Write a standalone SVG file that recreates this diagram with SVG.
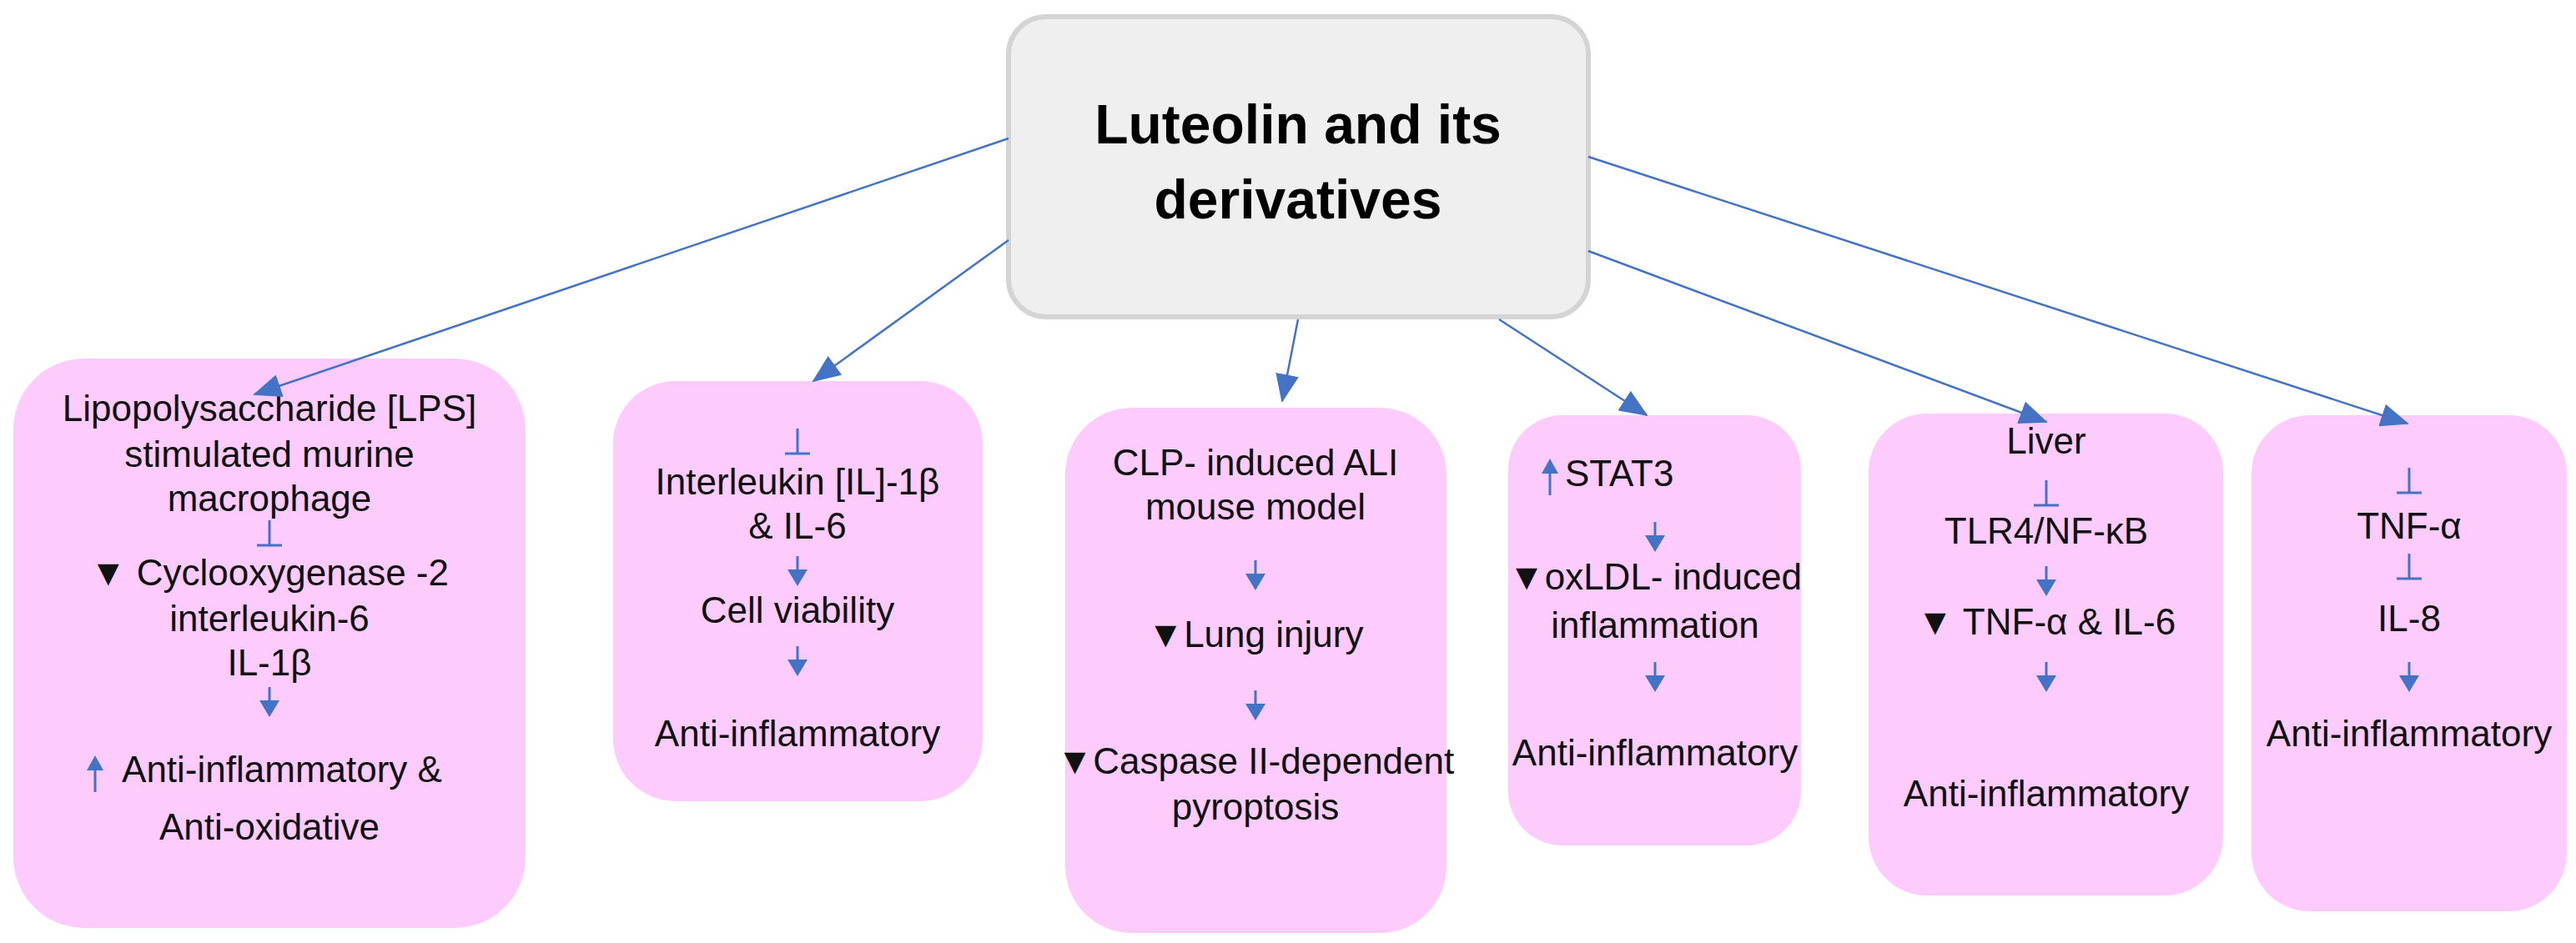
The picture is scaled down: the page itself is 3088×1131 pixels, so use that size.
<svg xmlns="http://www.w3.org/2000/svg" width="3088" height="1131" viewBox="0 0 3088 1131">
<style>
.box{fill:#fdccfd;}
.t{font-family:"Liberation Sans",Arial,sans-serif;font-size:44px;fill:#111;text-anchor:middle;}
.title{font-family:"Liberation Sans",Arial,sans-serif;font-size:66px;font-weight:bold;fill:#000;text-anchor:middle;}
.c{stroke:#4472c4;stroke-width:2.5;fill:none;}
.b{stroke:#4472c4;stroke-width:3;fill:none;}
.bf{fill:#4472c4;}
</style>
<defs>
<marker id="ahb" markerWidth="34" markerHeight="28" refX="32" refY="14" orient="auto" markerUnits="userSpaceOnUse" viewBox="0 0 34 28">
<path d="M0,0 L34,14 L0,28 Z" fill="#4472c4"/>
</marker>
<g id="down"><line x1="0" y1="-18" x2="0" y2="0" class="b"/><path d="M-12,-2 L12,-2 L0,18 Z" class="bf"/></g>
<g id="inh"><line x1="0" y1="-16" x2="0" y2="14" class="b"/><line x1="-15" y1="14" x2="15" y2="14" class="b"/></g>
<g id="up"><line x1="0" y1="22" x2="0" y2="-6" class="b"/><path d="M-10,-4 L10,-4 L0,-22 Z" class="bf"/></g>
</defs>

<g id="root">
<rect x="1209" y="20" width="695" height="360" rx="45" fill="#efefef" stroke="#d4d4d4" stroke-width="6"/>
<text class="title" x="1556" y="172">Luteolin and its</text>
<text class="title" x="1556" y="262">derivatives</text>
</g>

<g id="n1">
<rect class="box" x="16" y="430" width="614" height="683" rx="85"/>
<text class="t" x="323" y="505">Lipopolysaccharide [LPS]</text>
<text class="t" x="323" y="560">stimulated murine</text>
<text class="t" x="323" y="613">macrophage</text>
<use href="#inh" x="323" y="640"/>
<text class="t" x="323" y="702">▼ Cyclooxygenase -2</text>
<text class="t" x="323" y="757">interleukin-6</text>
<text class="t" x="323" y="810">IL-1β</text>
<use href="#down" x="323" y="842"/>
<use href="#up" x="114" y="928"/>
<text class="t" x="338" y="938">Anti-inflammatory &amp;</text>
<text class="t" x="323" y="1007">Anti-oxidative</text>
</g>

<g id="n2">
<rect class="box" x="735" y="457" width="443" height="504" rx="75"/>
<use href="#inh" x="956" y="530"/>
<text class="t" x="956" y="593">Interleukin [IL]-1β</text>
<text class="t" x="956" y="646">&amp; IL-6</text>
<use href="#down" x="956" y="685"/>
<text class="t" x="956" y="747">Cell viability</text>
<use href="#down" x="956" y="793"/>
<text class="t" x="956" y="895">Anti-inflammatory</text>
</g>

<g id="n3">
<rect class="box" x="1277" y="489" width="457" height="630" rx="80"/>
<text class="t" x="1505" y="570">CLP- induced ALI</text>
<text class="t" x="1505" y="623">mouse model</text>
<use href="#down" x="1505" y="690"/>
<text class="t" x="1505" y="776">▼Lung injury</text>
<use href="#down" x="1505" y="846"/>
<text class="t" x="1505" y="928">▼Caspase II-dependent</text>
<text class="t" x="1505" y="983">pyroptosis</text>
</g>

<g id="n4">
<rect class="box" x="1808" y="498" width="351" height="516" rx="65"/>
<use href="#up" x="1858" y="572"/>
<text class="t" x="1876" y="583" style="text-anchor:start">STAT3</text>
<use href="#down" x="1984" y="644"/>
<text class="t" x="1984" y="707">▼oxLDL- induced</text>
<text class="t" x="1984" y="765">inflammation</text>
<use href="#down" x="1984" y="812"/>
<text class="t" x="1984" y="918">Anti-inflammatory</text>
</g>

<g id="n5">
<rect class="box" x="2240" y="496" width="425" height="578" rx="70"/>
<text class="t" x="2453" y="544">Liver</text>
<use href="#inh" x="2453" y="592"/>
<text class="t" x="2453" y="652">TLR4/NF-κB</text>
<use href="#down" x="2453" y="697"/>
<text class="t" x="2453" y="761">▼ TNF-α &amp; IL-6</text>
<use href="#down" x="2453" y="812"/>
<text class="t" x="2453" y="967">Anti-inflammatory</text>
</g>

<g id="n6">
<rect class="box" x="2699" y="498" width="378" height="595" rx="70"/>
<use href="#inh" x="2888" y="577"/>
<text class="t" x="2888" y="646">TNF-α</text>
<use href="#inh" x="2888" y="680"/>
<text class="t" x="2888" y="757">IL-8</text>
<use href="#down" x="2888" y="812"/>
<text class="t" x="2888" y="895">Anti-inflammatory</text>
</g>

<g id="connectors">
<line class="c" x1="1209" y1="166" x2="305" y2="473" marker-end="url(#ahb)"/>
<line class="c" x1="1209" y1="288" x2="975" y2="457" marker-end="url(#ahb)"/>
<line class="c" x1="1556" y1="383" x2="1537" y2="481" marker-end="url(#ahb)"/>
<line class="c" x1="1797" y1="383" x2="1974" y2="498" marker-end="url(#ahb)"/>
<line class="c" x1="1904" y1="301" x2="2453" y2="506" marker-end="url(#ahb)"/>
<line class="c" x1="1904" y1="188" x2="2886" y2="508" marker-end="url(#ahb)"/>
</g>
</svg>
